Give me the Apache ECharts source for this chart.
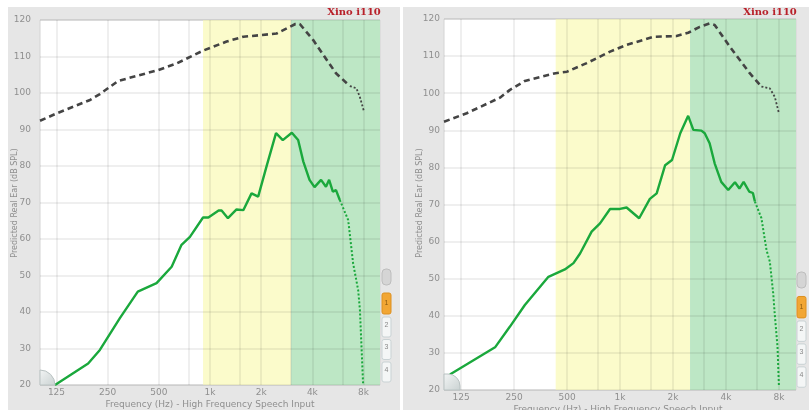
<!DOCTYPE html>
<html><head><meta charset="utf-8">
<script src="https://cdn.jsdelivr.net/npm/echarts@6/dist/echarts.min.js"></script>
<style>
html,body{margin:0;padding:0;background:#fff;}
#wrap{position:relative;width:809px;height:410px;overflow:hidden;}
.panel{position:absolute;background:#e6e6e6;}
#chart{position:absolute;left:0;top:0;width:809px;height:410px;}
</style></head>
<body>
<div id="wrap">
  <div class="panel" style="left:8px;top:7px;width:392px;height:403px;"></div>
  <div class="panel" style="left:403px;top:7px;width:406px;height:403px;"></div>
  <div id="chart"></div>
</div>
<script>
// ---- data ----
const freqTicks = [125, 250, 500, 1000, 2000, 4000, 8000];
const freqTickLabels = ['125', '250', '500', '1k', '2k', '4k', '8k'];
const freqMinorGrid = [750, 1500, 3000, 6000];

const leftBlackF  = [100, 128, 197, 225, 258, 288, 497, 636, 910, 1253, 1570, 2465, 2830, 3180, 3375, 4047, 5511, 6650];
const leftBlackDb = [92.4, 94.6, 98.1, 99.7, 101.7, 103.3, 106.3, 108.1, 111.6, 114.1, 115.4, 116.3, 117.7, 118.9, 118.9, 114.5, 105.4, 101.9];
const leftBlackTailF  = [6650, 7263, 7603, 8055];
const leftBlackTailDb = [101.9, 101.3, 99, 94.9];

const leftGreenF  = [122.5, 192, 225, 295, 376, 485, 595, 680, 762, 910, 978, 1124, 1170, 1275, 1433, 1570, 1755, 1920, 2163, 2445, 2680, 3030, 3300, 3540, 3850, 4120, 4500, 4810, 5020, 5280, 5510, 5800];
const leftGreenDb = [20, 25.9, 29.6, 38.3, 45.6, 47.9, 52.4, 58.4, 60.6, 65.9, 65.9, 67.8, 67.8, 65.7, 68.1, 67.9, 72.5, 71.6, 80.3, 89, 87.1, 89.1, 87.1, 81.2, 76.2, 74.2, 76.2, 74.3, 76.2, 73.0, 73.4, 70.7];
const leftGreenTailF  = [5800, 6500, 6950, 7440, 7620, 7950];
const leftGreenTailDb = [70.7, 65.2, 53.3, 46, 40.5, 20.5];

const rightBlackF  = [100, 134.6, 208, 237, 288, 431, 500, 647, 878, 1090, 1547, 2095, 2440, 2840, 3230, 3450, 4210, 5460, 6360];
const rightBlackDb = [92.3, 94.6, 98.8, 100.9, 103.3, 105.4, 105.8, 108.1, 111.2, 113, 115.2, 115.4, 116.3, 117.9, 118.8, 118.4, 112.5, 105.4, 101.8];
const rightBlackTailF  = [6360, 7100, 7580, 8000];
const rightBlackTailDb = [101.8, 101.3, 99, 94.6];

const rightGreenF  = [108, 195, 237, 288, 392, 486, 544, 593, 690, 770, 878, 1000, 1090, 1285, 1478, 1616, 1805, 1975, 2200, 2440, 2610, 2900, 3030, 3230, 3450, 3760, 4120, 4500, 4770, 5040, 5420, 5690, 5840];
const rightGreenDb = [24.2, 31.5, 37.1, 42.9, 50.5, 52.5, 54.2, 56.8, 62.7, 64.9, 68.8, 68.8, 69.2, 66.3, 71.5, 73, 80.6, 82, 89.2, 93.9, 90.1, 89.9, 89.2, 86.5, 81.1, 76.1, 73.9, 76, 74.3, 76.1, 73.5, 73.1, 70.8];
const rightGreenTailF  = [5840, 6360, 6800, 7100, 7420, 7580, 7850, 8000];
const rightGreenTailDb = [70.8, 66.3, 57.7, 54.6, 46.1, 40.2, 31.7, 20.9];

const leftYellowBand = [910, 3000];
const leftGreenBand = [3000, 10000];
const rightYellowBand = [431, 2500];
const rightGreenBand = [2500, 10000];

const titleText = 'Xino i110';
const xTitle = 'Frequency (Hz) - High Frequency Speech Input';
const yTitle = 'Predicted Real Ear (dB SPL)';

// ---- build ----
const zip = (a, b) => a.map((v, i) => [v, b[i]]);
const gridLineStyle = { color: 'rgba(0,0,0,0.085)', width: 1.5, type: 'solid' };
const BLACK = '#444';
const GREEN = '#1aa83c';

function panelSeries(idx, bf, bd, btf, btd, gf, gd, gtf, gtd, yb, gb) {
  return [
    { type: 'line', xAxisIndex: idx, yAxisIndex: idx, data: [], z: 1, silent: true,
      markArea: { silent: true, data: [
        [{ xAxis: yb[0], itemStyle: { color: '#fbfbcb' } }, { xAxis: yb[1] }],
        [{ xAxis: gb[0], itemStyle: { color: '#bde7c5' } }, { xAxis: gb[1] }]
      ] } },
    { type: 'line', xAxisIndex: idx, yAxisIndex: idx, data: [], z: 2, silent: true,
      markLine: { silent: true, symbol: 'none', animation: false,
        lineStyle: gridLineStyle,
        data: freqTicks.map((f, i) => ({ xAxis: f,
            label: { show: true, position: 'start', distance: 3, formatter: freqTickLabels[i], color: '#8f8f8f', fontSize: 9, fontFamily: 'DejaVu Sans' } }))
          .concat(freqMinorGrid.map(f => ({ xAxis: f, label: { show: false } }))) } },
    { type: 'line', xAxisIndex: idx, yAxisIndex: idx, data: zip(bf, bd), z: 5, showSymbol: false, smooth: false,
      lineStyle: { color: BLACK, width: 2.6, type: [6, 4] } },
    { type: 'line', xAxisIndex: idx, yAxisIndex: idx, data: zip(btf, btd), z: 5, showSymbol: false,
      lineStyle: { color: BLACK, width: 1.8, type: [2, 2] } },
    { type: 'line', xAxisIndex: idx, yAxisIndex: idx, data: zip(gf, gd), z: 6, showSymbol: false,
      lineStyle: { color: GREEN, width: 2.4 } },
    { type: 'line', xAxisIndex: idx, yAxisIndex: idx, data: zip(gtf, gtd), z: 6, showSymbol: false,
      lineStyle: { color: GREEN, width: 2, type: [2, 2] } }
  ];
}

function xAx(idx) {
  return { type: 'log', logBase: 10, gridIndex: idx, min: 100, max: 10000,
    axisLabel: { show: false }, axisTick: { show: false }, axisLine: { show: false }, splitLine: { show: false }, minorSplitLine: { show: false } };
}
function yAx(idx, margin) {
  return { type: 'value', gridIndex: idx, min: 20, max: 120, interval: 10, z: 3,
    axisLabel: { color: '#8f8f8f', fontSize: 9, margin: margin, fontFamily: 'DejaVu Sans' },
    axisTick: { show: false }, axisLine: { show: false },
    splitLine: { show: true, lineStyle: { color: 'rgba(0,0,0,0.085)', width: 1.5 } } };
}

function buttons(x, y0, scale) {
  const els = [];
  const w = 9;
  els.push({ type: 'rect', shape: { x: x, y: y0, width: w, height: 16, r: 4 }, style: { fill: '#d5d5d5', stroke: '#bdbdbd', lineWidth: 1 } });
  els.push({ type: 'text', x: x + w / 2, y: y0 + 8, style: { text: '≡', fontSize: 7, fill: '#999', align: 'center', verticalAlign: 'middle' }, rotation: -Math.PI / 2, originX: x + w / 2, originY: y0 + 8 });
  els.push({ type: 'rect', shape: { x: x, y: y0 + 24 * scale, width: w, height: 21 * scale, r: 2 }, style: { fill: '#f2a634', stroke: '#dd9020', lineWidth: 1 } });
  els.push({ type: 'text', x: x + w / 2, y: y0 + 24 * scale + 10 * scale, style: { text: '1', fontSize: 7, fill: '#8a5a10', align: 'center', verticalAlign: 'middle' } });
  ['2', '3', '4'].forEach((t, i) => {
    const yy = y0 + (48 + i * 22.5) * scale;
    els.push({ type: 'rect', shape: { x: x, y: yy, width: w, height: 20 * scale, r: 2 }, style: { fill: '#f4f6f6', stroke: '#c9d2d4', lineWidth: 1 } });
    els.push({ type: 'text', x: x + w / 2, y: yy + 8, style: { text: t, fontSize: 7, fill: '#888', align: 'center', verticalAlign: 'middle' } });
  });
  return els;
}

const option = {
  backgroundColor: 'transparent',
  animation: false,
  grid: [
    { left: 40, top: 20, width: 340, height: 365, show: true, backgroundColor: '#fff', borderColor: '#d4d4d4', borderWidth: 1 },
    { left: 444, top: 19, width: 352, height: 371, show: true, backgroundColor: '#fff', borderColor: '#d4d4d4', borderWidth: 1 }
  ],
  xAxis: [xAx(0), xAx(1)],
  yAxis: [yAx(0, 9), yAx(1, 4)],
  series: [].concat(
    panelSeries(0, leftBlackF, leftBlackDb, leftBlackTailF, leftBlackTailDb, leftGreenF, leftGreenDb, leftGreenTailF, leftGreenTailDb, leftYellowBand, leftGreenBand),
    panelSeries(1, rightBlackF, rightBlackDb, rightBlackTailF, rightBlackTailDb, rightGreenF, rightGreenDb, rightGreenTailF, rightGreenTailDb, rightYellowBand, rightGreenBand)
  ),
  graphic: [
    { type: 'text', x: 354, y: 12, z: 20, style: { text: titleText, font: 'bold 10px "DejaVu Serif"', fill: '#b8202a', align: 'center', verticalAlign: 'middle' } },
    { type: 'text', x: 770, y: 12, z: 20, style: { text: titleText, font: 'bold 10px "DejaVu Serif"', fill: '#b8202a', align: 'center', verticalAlign: 'middle' } },
    { type: 'text', x: 210, y: 405, z: 20, style: { text: xTitle, font: '9px "DejaVu Sans"', fill: '#8f8f8f', align: 'center', verticalAlign: 'middle' } },
    { type: 'text', x: 618, y: 410, z: 20, style: { text: xTitle, font: '9px "DejaVu Sans"', fill: '#8f8f8f', align: 'center', verticalAlign: 'middle' } },
    { type: 'text', x: 15, y: 203, z: 20, rotation: Math.PI / 2, style: { text: yTitle, font: '8px "DejaVu Sans"', fill: '#8f8f8f', align: 'center', verticalAlign: 'middle' } },
    { type: 'text', x: 420, y: 203, z: 20, rotation: Math.PI / 2, style: { text: yTitle, font: '8px "DejaVu Sans"', fill: '#8f8f8f', align: 'center', verticalAlign: 'middle' } },
    { type: 'sector', z: 20, shape: { cx: 40, cy: 385, r: 15, startAngle: -Math.PI / 2, endAngle: 0 },
      style: { fill: new echarts.graphic.LinearGradient(0, 0, 1, 1, [{ offset: 0, color: '#f3f5f5' }, { offset: 1, color: '#c9d1d1' }]), stroke: '#b9c2c2', lineWidth: 1 } },
    { type: 'rect', z: 20, shape: { x: 444, y: 374, width: 16, height: 16, r: [0, 12, 0, 0] },
      style: { fill: new echarts.graphic.LinearGradient(0, 0, 1, 1, [{ offset: 0, color: '#f3f5f5' }, { offset: 1, color: '#c9d1d1' }]), stroke: '#b9c2c2', lineWidth: 1 } }
  ].concat(buttons(382, 269, 1), buttons(797, 272, 1.02))
};

const chart = echarts.init(document.getElementById('chart'), null, { renderer: 'canvas' });
chart.setOption(option);
</script>
</body></html>
